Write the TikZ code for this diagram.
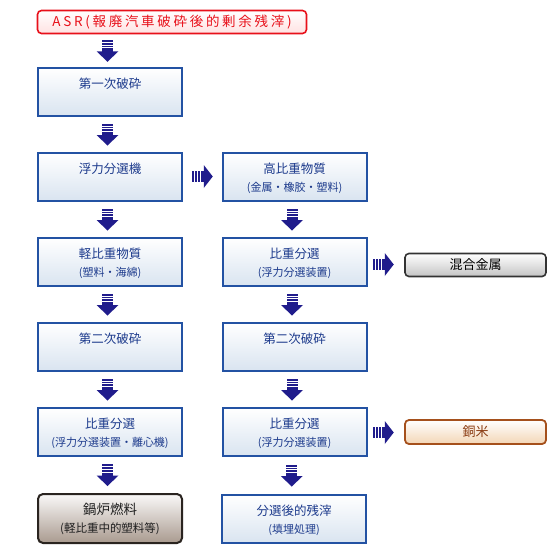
\documentclass[tikz,border=0pt]{standalone}
\usepackage{fontspec}
\setmainfont{Noto Sans CJK JP}
\usetikzlibrary{calc}
\definecolor{boxblue}{HTML}{2352A3}
\definecolor{fillblue}{HTML}{D9E4F0}
\definecolor{txtblue}{HTML}{1C3A8C}
\definecolor{arrblue}{HTML}{201C8C}
\definecolor{asrred}{HTML}{E8101A}
\definecolor{asrfill}{HTML}{FFE2E2}
\definecolor{graybd}{HTML}{333333}
\definecolor{grayfill}{HTML}{C4C4C4}
\definecolor{copperbd}{HTML}{A5501C}
\definecolor{copperfill}{HTML}{F3D6B6}
\definecolor{coppertxt}{HTML}{8A3A10}
\definecolor{brownbd}{HTML}{2A2420}
\definecolor{brownfill}{HTML}{A99A8F}
\begin{document}
\begin{tikzpicture}[x=1pt,y=-1pt,
  bluebox/.style={draw=boxblue,line width=2pt,top color=white,bottom color=fillblue,
    minimum width=144pt,minimum height=48pt,inner sep=0pt,outer sep=0pt},
  brownbox/.style={draw=brownbd,line width=2pt,rounded corners=5pt,top color=white!94!brownfill,bottom color=brownfill,
    minimum width=144pt,minimum height=49pt,inner sep=0pt,outer sep=0pt},
  asrbox/.style={draw=asrred,line width=1.6pt,rounded corners=4pt,top color=white,bottom color=asrfill,
    minimum width=269pt,minimum height=23pt,inner sep=0pt,outer sep=0pt,text=asrred,
    font=\fontsize{13.5}{16}\selectfont\addfontfeature{LetterSpace=20}},
  graybox/.style={draw=graybd,line width=1.6pt,rounded corners=4pt,top color=white,bottom color=grayfill,
    minimum width=141pt,minimum height=23pt,inner sep=0pt,outer sep=0pt,text=black,
    font=\fontsize{13}{15}\selectfont},
  copperbox/.style={draw=copperbd,line width=1.8pt,rounded corners=4pt,top color=white,bottom color=copperfill,
    minimum width=141pt,minimum height=24pt,inner sep=0pt,outer sep=0pt,text=coppertxt,
    font=\fontsize{13}{15}\selectfont},
  maintxt/.style={text=txtblue,inner sep=0pt,font=\fontsize{12.5}{14}\selectfont},
  subtxt/.style={text=txtblue,inner sep=0pt,font=\fontsize{11}{13}\selectfont},
  bmaintxt/.style={text=black!88,inner sep=0pt,font=\fontsize{13.5}{15}\selectfont},
  bsubtxt/.style={text=black!88,inner sep=0pt,font=\fontsize{11.5}{13}\selectfont},
  darr/.pic={
    \fill[arrblue] (-5.5,-11) rectangle (5.5,1.5);
    \fill[arrblue] (-11,0.5) -- (11,0.5) -- (0,11) -- cycle;
    \foreach \yy in {-8.3,-5.6,-2.9} \draw[white,line width=0.9pt] (-6,\yy) -- (6,\yy);
  },
  rarr/.pic={
    \fill[arrblue] (-10.5,-5.5) rectangle (2,5.5);
    \fill[arrblue] (1.5,-11.5) -- (1.5,11.5) -- (10.5,0) -- cycle;
    \foreach \xx in {-8,-4.7,-1.4} \draw[white,line width=0.9pt] (\xx,-6) -- (\xx,6);
  }
]
\useasboundingbox (0,0) rectangle (560,560);
\fill[white] (0,0) rectangle (560,560);

% title
\node[asrbox] (asr) at (172,22) {ASR(報廃汽車破砕後的剰余残滓)};

% left column
\node[bluebox] (L1) at (110,92) {};
\node[bluebox] (L2) at (110,177) {};
\node[bluebox] (L3) at (110,262) {};
\node[bluebox] (L4) at (110,347) {};
\node[bluebox] (L5) at (110,432) {};
\node[brownbox] (L6) at (110,518.5) {};

% right column
\node[bluebox] (R1) at (294.5,177) {};
\node[bluebox] (R2) at (294.5,262) {};
\node[bluebox] (R3) at (294.5,347) {};
\node[bluebox] (R4) at (294.5,432) {};
\node[bluebox] (R5) at (294,519) {};

% side boxes
\node[graybox] (M1) at (475.5,265) {混合金属};
\node[copperbox] (C1) at (475.5,432) {銅米};

% texts
\node[maintxt] (L1t) at ([yshift=-15.5pt]L1.north) {第一次破砕};
\node[maintxt] (L2t) at ([yshift=-15.5pt]L2.north) {浮力分選機};
\node[maintxt] (L3t) at ([yshift=-15.5pt]L3.north) {軽比重物質};
\node[subtxt]  (L3s) at ([yshift=-34.5pt]L3.north) {(塑料・海綿)};
\node[maintxt] (L4t) at ([yshift=-15.5pt]L4.north) {第二次破砕};
\node[maintxt] (L5t) at ([yshift=-15.5pt]L5.north) {比重分選};
\node[subtxt]  (L5s) at ([yshift=-34.5pt]L5.north) {(浮力分選装置・離心機)};
\node[bmaintxt] (L6t) at ([yshift=-15.5pt]L6.north) {鍋炉燃料};
\node[bsubtxt]  (L6s) at ([yshift=-34.5pt]L6.north) {(軽比重中的塑料等)};

\node[maintxt] (R1t) at ([yshift=-15.5pt]R1.north) {高比重物質};
\node[subtxt]  (R1s) at ([yshift=-34.5pt]R1.north) {(金属・橡胶・塑料)};
\node[maintxt] (R2t) at ([yshift=-15.5pt]R2.north) {比重分選};
\node[subtxt]  (R2s) at ([yshift=-34.5pt]R2.north) {(浮力分選装置)};
\node[maintxt] (R3t) at ([yshift=-15.5pt]R3.north) {第二次破砕};
\node[maintxt] (R4t) at ([yshift=-15.5pt]R4.north) {比重分選};
\node[subtxt]  (R4s) at ([yshift=-34.5pt]R4.north) {(浮力分選装置)};
\node[maintxt] (R5t) at ([yshift=-15.5pt]R5.north) {分選後的残滓};
\node[subtxt]  (R5s) at ([yshift=-34.5pt]R5.north) {(填埋処理)};

% arrows
\pic at ($(asr.south -| L1.south)!0.5!(L1.north)+(-2.5,0)$) {darr};
\pic at ($(L1.south)!0.5!(L2.north)+(-2.5,0)$) {darr};
\pic at ($(L2.south)!0.5!(L3.north)+(-2.5,0)$) {darr};
\pic at ($(L3.south)!0.5!(L4.north)+(-2.5,0)$) {darr};
\pic at ($(L4.south)!0.5!(L5.north)+(-2.5,0)$) {darr};
\pic at ($(L5.south)!0.5!(L6.north)+(-2.5,0)$) {darr};
\pic at ($(R1.south)!0.5!(R2.north)+(-2.5,0)$) {darr};
\pic at ($(R2.south)!0.5!(R3.north)+(-2.5,0)$) {darr};
\pic at ($(R3.south)!0.5!(R4.north)+(-2.5,0)$) {darr};
\pic at ($(R4.south)!0.5!(R5.north)+(-2.5,0)$) {darr};
\pic at ($(L2.east)!0.5!(R1.west)+(0,-0.5)$) {rarr};
\pic at ($(R2.east)!0.5!(M1.west)+(-2.5,1)$) {rarr};
\pic at ($(R4.east)!0.5!(C1.west)+(-2.5,0.5)$) {rarr};
\end{tikzpicture}
\end{document}
